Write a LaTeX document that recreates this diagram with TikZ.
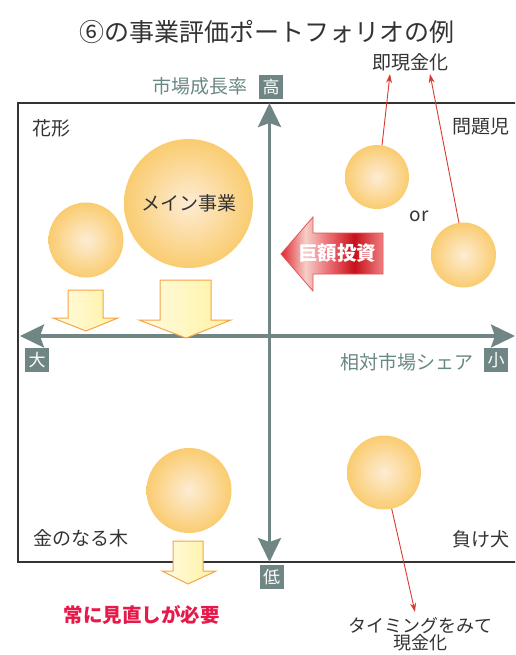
\documentclass[tikz,border=0pt]{standalone}
\usepackage{fontspec}
\setmainfont{Noto Sans CJK JP}
\usetikzlibrary{arrows.meta,shadings}
\definecolor{axisgray}{RGB}{112,134,132}
\definecolor{axistext}{RGB}{104,136,134}
\definecolor{txt}{RGB}{51,51,51}
\definecolor{bubIn}{RGB}{253,236,212}
\definecolor{bubOut}{RGB}{250,204,112}
\definecolor{yelL}{RGB}{255,251,228}
\definecolor{yelR}{RGB}{255,242,160}
\definecolor{yelEdge}{RGB}{246,164,72}
\definecolor{rA}{RGB}{222,40,48}
\definecolor{rB}{RGB}{246,206,200}
\definecolor{rC}{RGB}{232,96,104}
\definecolor{rD}{RGB}{200,16,26}
\definecolor{rE}{RGB}{238,128,128}
\definecolor{redline}{RGB}{216,58,46}
\definecolor{crimson}{RGB}{229,25,74}
\pgfdeclarehorizontalshading{redband}{100bp}{color(0bp)=(rA); color(25bp)=(rA); color(37bp)=(rB); color(50bp)=(rC); color(61bp)=(rD); color(75bp)=(rE); color(100bp)=(rE)}
\newcommand{\fs}[1]{\fontsize{#1}{#1}\selectfont}
\tikzset{
  bubble/.style={circle, shade, inner color=bubIn, outer color=bubOut, draw=none, inner sep=0pt, outer sep=0pt, text=txt, font=\fs{19}},
  axisline/.style={draw=axisgray, line width=3.5pt, {Stealth[length=24pt,width=23pt,inset=4pt]}-{Stealth[length=24pt,width=23pt,inset=4pt]}},
  tag/.style={fill=axisgray, text=white, minimum size=24pt, inner sep=0pt, font=\fs{17}},
  lbl/.style={text=txt, font=\fs{19}, inner sep=1pt},
  yarrow/.style={draw=yelEdge, line width=1pt, left color=yelL, right color=yelR, line join=miter},
  rline/.style={draw=redline, line width=0.9pt, -{Stealth[length=9pt,width=6pt]}},
}
\begin{document}
\begin{tikzpicture}[x=1pt,y=-1pt]
\useasboundingbox (0,0) rectangle (515,655);
\clip (0,0) rectangle (515,655);
% title
\node[text=txt, font=\fs{25}] (title) at (266.5,32) {⑥の事業評価ポートフォリオの例};
% frame
\draw[txt, line width=1.1pt] (18,103) rectangle (530,562);
% axes
\coordinate (ytop) at (269.5,103);
\coordinate (ybot) at (269.5,562);
\coordinate (xl) at (20,336);
\coordinate (xr) at (515,336);
\draw[axisline] (xl) -- (xr);
\draw[axisline] (ytop) -- (ybot);
% axis labels
\node[text=axistext, font=\fs{19}] (growth) at (200,86) {市場成長率};
\node[tag] (hi) at (271,87) {高};
\node[tag] (lo) at (271.5,577) {低};
\node[tag] (big) at (37,360) {大};
\node[tag] (small) at (496,360) {小};
\node[text=axistext, font=\fs{19}, anchor=east] (share) at (477,362) {相対市場シェア};
% quadrant labels
\node[lbl] (star) at (51,128) {花形};
\node[lbl] (question) at (480.5,127) {問題児};
\node[lbl] (cow) at (80.5,538) {金のなる木};
\node[lbl] (dog) at (480.5,539) {負け犬};
% bubbles
\node[bubble, minimum size=129pt] (main) at (188.5,203.5) {メイン事業};
\node[bubble, minimum size=75pt] (star2) at (86,240) {};
\node[bubble, minimum size=64pt] (q1) at (377,177) {};
\node[bubble, minimum size=65pt] (q2) at (463.5,255) {};
\node[bubble, minimum size=85pt] (cowb) at (189,490.5) {};
\node[bubble, minimum size=74pt] (dogb) at (384,472.5) {};
\node[lbl] (or) at (419,216) {or};
% yellow down arrows
\draw[yarrow] (68,290) -- (103,290) -- (103,318) -- (118,318) -- (86,331) -- (53,318) -- (68,318) -- cycle;
\draw[yarrow] (160,280) -- (211,280) -- (211,320) -- (231,320) -- (186,338) -- (139,320) -- (160,320) -- cycle;
\draw[yarrow] (173,541) -- (203,541) -- (203,571) -- (216,571) -- (188,584) -- (162,571) -- (173,571) -- cycle;
% red investment arrow
\draw[draw=rA!80!white, line width=0.8pt, shading=redband] (281,254) -- (313,217) -- (313,233) -- (383,233) -- (383,274) -- (313,274) -- (313,291) -- cycle;
\node[text=white, font=\bfseries\fs{19.5}] (invest) at (337,253) {巨額投資};
% texts with red connectors
\node[lbl] (cash) at (410,62) {即現金化};
\draw[rline] (q1.81) -- ([xshift=-20pt,yshift=-2pt]cash.south);
\draw[rline] (q2.98) -- ([xshift=20pt,yshift=-2pt]cash.south);
\node[text=txt, font=\fs{18}, align=center, inner sep=1pt] (timing) at (420,634) {タイミングをみて\\[-1pt]現金化};
\draw[rline] (dogb.282) -- ([xshift=-5pt,yshift=4pt]timing.north);
\node[text=crimson, font=\bfseries\fs{19.5}] (review) at (141.5,615) {常に見直しが必要};
\end{tikzpicture}
\end{document}
